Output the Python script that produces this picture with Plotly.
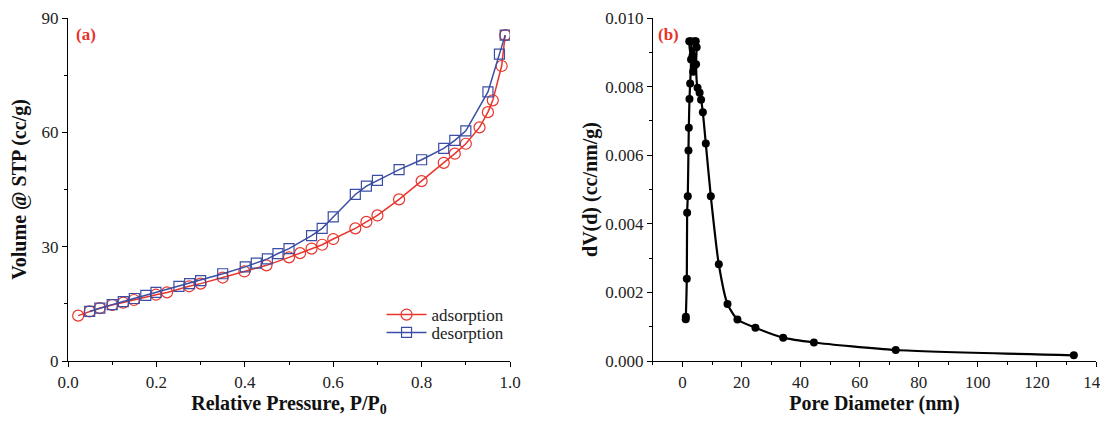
import plotly.graph_objects as go
from plotly.subplots import make_subplots

# Panel (a): nitrogen isotherm
ads_p = [0.023, 0.049, 0.072, 0.100, 0.125, 0.149, 0.199, 0.224, 0.274, 0.300, 0.350, 0.399,
         0.449, 0.500, 0.525, 0.551, 0.575, 0.600, 0.650, 0.675, 0.700, 0.749, 0.800, 0.850,
         0.875, 0.900, 0.931, 0.950, 0.961, 0.981, 0.989]
ads_v = [11.9, 13.0, 13.9, 14.7, 15.3, 16.0, 17.4, 18.0, 19.6, 20.3, 21.9, 23.5,
         25.1, 27.2, 28.3, 29.5, 30.5, 32.0, 34.8, 36.5, 38.2, 42.4, 47.2, 52.0,
         54.4, 57.0, 61.3, 65.3, 68.4, 77.4, 85.5]
des_p = [0.049, 0.072, 0.100, 0.125, 0.150, 0.176, 0.199, 0.251, 0.275, 0.300, 0.350, 0.401,
         0.426, 0.451, 0.475, 0.500, 0.551, 0.575, 0.600, 0.650, 0.675, 0.700, 0.749, 0.800,
         0.850, 0.875, 0.900, 0.950, 0.976, 0.989]
des_v = [13.0, 13.9, 14.8, 15.6, 16.4, 17.2, 18.0, 19.6, 20.3, 21.1, 22.9, 24.7,
         25.7, 26.8, 28.2, 29.5, 32.9, 34.8, 37.8, 43.7, 45.9, 47.4, 50.2, 52.8,
         55.8, 57.9, 60.4, 70.6, 80.5, 85.5]

# Panel (b): pore size distribution
pore_d = [1.1, 1.15, 1.47, 1.58, 1.8, 2.03, 2.15, 2.37, 2.6, 2.9, 2.3, 2.8, 3.4, 3.6, 3.9,
          4.1, 4.5, 4.8, 4.6, 5.1, 5.8, 6.3, 6.9, 7.9, 9.6, 12.3, 15.25, 18.6, 24.7,
          34.1, 44.5, 72.2, 132.5]
pore_dv = [0.00122, 0.00129, 0.0024, 0.00432, 0.0048, 0.00614, 0.0068, 0.00764, 0.00809,
           0.00879, 0.00932, 0.00932, 0.0089, 0.00843, 0.0086, 0.00932, 0.00932, 0.00915,
           0.00865, 0.00797, 0.00782, 0.00762, 0.00725, 0.00634, 0.0048, 0.00282, 0.00166,
           0.00121, 0.00097, 0.00068, 0.00054, 0.00032, 0.000165]

RED = "#e8342c"
BLUE = "#3b4ea3"
FONT = "'Liberation Serif', 'Times New Roman', serif"

fig = make_subplots(rows=1, cols=2)

fig.add_trace(go.Scatter(x=ads_p, y=ads_v, mode="lines+markers", name="adsorption",
                         legend="legend",
                         line=dict(color=RED, width=1.5),
                         marker=dict(symbol="circle-open", size=11, color=RED, line=dict(width=1.2))),
              row=1, col=1)
fig.add_trace(go.Scatter(x=des_p, y=des_v, mode="lines+markers", name="desorption",
                         legend="legend2",
                         line=dict(color=BLUE, width=1.5),
                         marker=dict(symbol="square-open", size=10, color=BLUE, line=dict(width=1.2))),
              row=1, col=1)
fig.add_trace(go.Scatter(x=pore_d, y=pore_dv, mode="lines+markers", showlegend=False,
                         line=dict(color="black", width=2.2, shape="spline", smoothing=0.6),
                         marker=dict(symbol="circle", size=8, color="black")),
              row=1, col=2)

axis_common = dict(showline=True, linecolor="black", linewidth=1.2, ticks="outside",
                   ticklen=5, tickwidth=1.2, tickcolor="black", showgrid=False, zeroline=False,
                   automargin=False, ticklabeloverflow="allow",
                   tickfont=dict(family=FONT, size=17, color="#222"),
                   title_font=dict(family=FONT, size=20, color="#111"),
                   minor=dict(ticks="outside", ticklen=3, tickwidth=1, tickcolor="black"))

fig.update_xaxes(**axis_common)
fig.update_yaxes(**axis_common)

fig.update_xaxes(domain=[0.0, 0.43], range=[0, 1.0], dtick=0.2, tickformat=".1f",
                 minor_dtick=0.1,
                 title=dict(text="<b>Relative Pressure, P/P<sub>0</sub></b>", standoff=5),
                 row=1, col=1)
fig.update_yaxes(range=[0, 90], dtick=30, minor_dtick=15,
                 title=dict(text="<b>Volume @ STP (cc/g)</b>", standoff=12),
                 row=1, col=1)
fig.update_xaxes(domain=[0.569, 1.0], range=[-10, 140], dtick=20, minor_dtick=10,
                 title=dict(text="<b>Pore Diameter (nm)</b>", standoff=2),
                 row=1, col=2)
fig.update_yaxes(range=[0, 0.010], dtick=0.002, tickformat=".3f", minor_dtick=0.001,
                 title=dict(text="<b>dV(d) (cc/nm/g)</b>", standoff=2),
                 row=1, col=2)

fig.add_annotation(text="<b>(a)</b>", x=0.006, y=0.985, xref="paper", yref="paper",
                   xanchor="left", yanchor="top", showarrow=False,
                   font=dict(family=FONT, size=17, color=RED))
fig.add_annotation(text="<b>(b)</b>", x=0.572, y=0.985, xref="paper", yref="paper",
                   xanchor="left", yanchor="top", showarrow=False,
                   font=dict(family=FONT, size=17, color=RED))

legend_common = dict(xanchor="left", yanchor="middle", bgcolor="rgba(0,0,0,0)",
                     font=dict(family=FONT, size=17, color="#222"), itemwidth=40,
                     borderwidth=0)

fig.update_layout(
    width=1100, height=415,
    margin=dict(l=60, r=12, t=10, b=62, autoexpand=False),
    paper_bgcolor="white", plot_bgcolor="white",
    font=dict(family=FONT, size=16, color="#222"),
    legend=dict(x=0.305, y=0.134, **legend_common),
    legend2=dict(x=0.305, y=0.082, **legend_common),
)

fig.write_html("out.html")
